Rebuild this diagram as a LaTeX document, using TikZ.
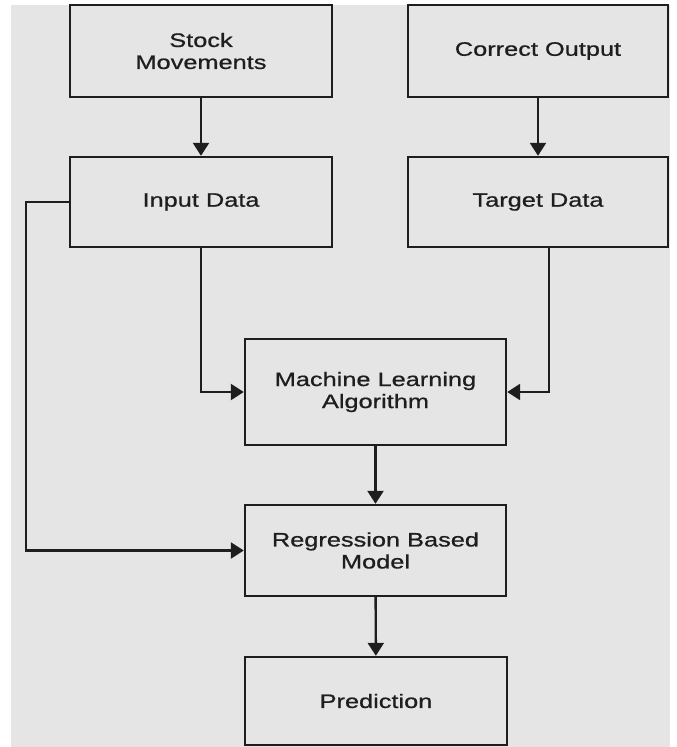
\documentclass[tikz,border=0pt]{standalone}
\usepackage{fontspec}
\newfontfamily\boxfont[FakeStretch=1.3,FakeBold=0.8]{Liberation Sans}
\usetikzlibrary{arrows.meta}
\definecolor{panel}{HTML}{E5E5E5}
\definecolor{ink}{HTML}{1E1E1E}
\tikzset{
  flowbox/.style={draw=ink, line width=2.4pt, fill=panel, inner sep=0pt,
    align=center, text=ink, font=\boxfont\fontsize{19.5}{22}\selectfont},
  flow/.style={draw=ink, line width=2.4pt,
    -{Triangle[width=16pt,length=13pt]}},
}
\begin{document}
\begin{tikzpicture}[x=1pt,y=-1pt]
  \useasboundingbox (0,0) rectangle (677,747);
  % grey backdrop
  \fill[panel] (11,5) rectangle (670,747);

  % boxes
  \node[flowbox, minimum width=262pt, minimum height=92pt] (stock)   at (201,51)    {Stock\\Movements};
  \node[flowbox, minimum width=260pt, minimum height=92pt] (correct) at (538,51)    {Correct Output};
  \node[flowbox, minimum width=262pt, minimum height=90pt] (input)   at (201,202)   {Input Data};
  \node[flowbox, minimum width=260pt, minimum height=90pt] (target)  at (538,202)   {Target Data};
  \node[flowbox, minimum width=261pt, minimum height=106pt] (ml)     at (375.5,392) {Machine Learning\\Algorithm};
  \node[flowbox, minimum width=261pt, minimum height=91pt] (reg)     at (375.5,550.5) {Regression Based\\Model};
  \node[flowbox, minimum width=262pt, minimum height=88pt] (pred)    at (376,701)   {Prediction};

  % connectors
  \draw[flow] (stock) -- (input);
  \draw[flow] (correct) -- (target);
  \draw[flow] (input.south) |- (ml.west);
  \draw[flow] ([xshift=11pt]target.south) |- (ml.east);
  \draw[flow] (ml) -- (reg);
  \draw[flow] (input.west) -- ++(-43,0) |- (reg.west);
  \draw[flow] (reg) -- (pred);
\end{tikzpicture}
\end{document}
